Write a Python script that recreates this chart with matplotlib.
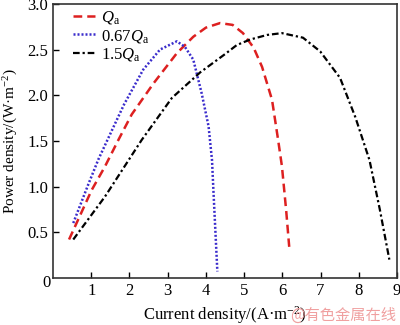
import matplotlib
matplotlib.use("Agg")
import matplotlib.pyplot as plt

plt.rcParams['font.family'] = ['Liberation Serif', 'DejaVu Serif']
plt.rcParams['mathtext.fontset'] = 'custom'
plt.rcParams['mathtext.rm'] = 'Liberation Serif'
plt.rcParams['mathtext.it'] = 'Liberation Serif:italic'

# Qa
x_qa = [0.42, 1.01, 1.36, 1.71, 2.06, 2.63, 3.24, 3.67, 4.0, 4.37, 4.7, 4.97, 5.25, 5.47, 5.73, 5.89, 5.99, 6.1, 6.18]
y_qa = [0.42, 0.96, 1.22, 1.51, 1.79, 2.13, 2.46, 2.64, 2.74, 2.79, 2.77, 2.68, 2.52, 2.31, 1.95, 1.51, 1.22, 0.74, 0.34]

# 0.67 Qa
x_067 = [0.53, 0.92, 1.19, 1.58, 1.86, 2.36, 2.8, 3.24, 3.45, 3.67, 3.89, 4.07, 4.16, 4.2, 4.25, 4.3]
y_067 = [0.60, 1.02, 1.30, 1.65, 1.90, 2.28, 2.50, 2.59, 2.53, 2.39, 2.02, 1.66, 1.29, 0.93, 0.5, 0.07]

# 1.5 Qa
x_15 = [0.53, 1.36, 2.32, 3.11, 3.85, 4.5, 4.81, 5.16, 5.6, 5.99, 6.54, 6.99, 7.51, 7.91, 8.28, 8.55, 8.8]
y_15 = [0.42, 0.89, 1.51, 1.97, 2.25, 2.45, 2.55, 2.61, 2.66, 2.68, 2.63, 2.48, 2.19, 1.76, 1.29, 0.75, 0.20]

fig = plt.figure(figsize=(4, 3.25), dpi=100)
ax = fig.add_axes([0.1325, 0.145, 0.86, 0.843])

ax.plot(x_qa, y_qa, color='#dd2020', linestyle=(0, (3.5, 2)), linewidth=1.8, label='$Q_\\mathrm{a}$')
ax.plot(x_067, y_067, color='#3a2ccc', linestyle=(0, (0.8, 0.8)), linewidth=1.8, label='0.67$Q_\\mathrm{a}$')
ax.plot(x_15, y_15, color='black', linestyle=(0, (3, 1.3, 1, 1.3)), linewidth=1.6, label='1.5$Q_\\mathrm{a}$')

ax.set_xlim(0, 9)
ax.set_ylim(0, 3.0)
ax.set_xticks([1, 2, 3, 4, 5, 6, 7, 8, 9])
ax.set_yticks([0.5, 1.0, 1.5, 2.0, 2.5, 3.0])
ax.set_yticklabels(['0.5', '1.0', '1.5', '2.0', '2.5', '3.0'])
ax.tick_params(direction='in', length=4, labelsize=12, width=1)
# shared origin label
ax.annotate('0', xy=(0, 0), xycoords='axes fraction', xytext=(-2, -4),
            textcoords='offset points', ha='right', va='center', fontsize=12)
for s in ax.spines.values():
    s.set_linewidth(1.2)
    s.set_color('#333333')

ax.set_xlabel('Current density/(A·m$^{-2}$)', fontsize=12, labelpad=4)
ax.set_ylabel('Power density/(W·m$^{-2}$)', fontsize=11, labelpad=5)

leg = ax.legend(loc='upper left', bbox_to_anchor=(0.039, 1.005), frameon=False,
                fontsize=12, handlelength=1.3, handletextpad=0.36,
                labelspacing=0.08, borderaxespad=0)

fig.text(0.99, 0.005, '@有色金属在线', ha='right', va='bottom', fontsize=11,
         color='#f0a0a0', family=['Noto Sans CJK SC', 'DejaVu Sans'])

fig.savefig('out.png', dpi=100)
